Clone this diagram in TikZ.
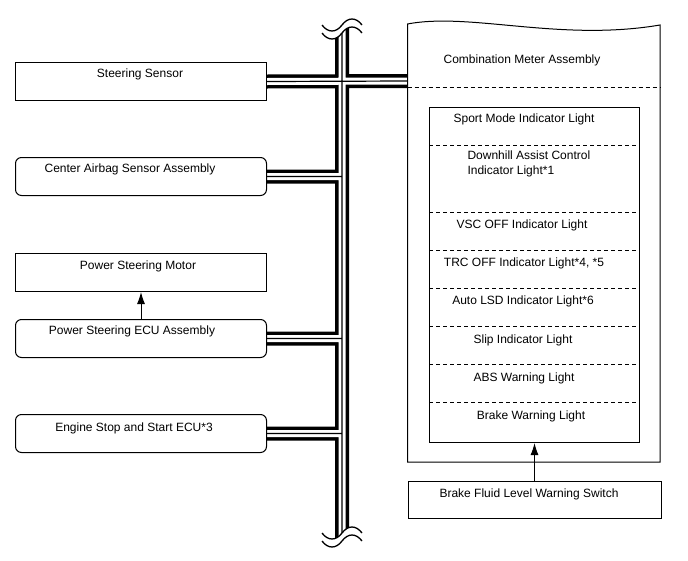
\documentclass[tikz,border=0pt]{standalone}
\usepackage{fontspec}
\setmainfont{Liberation Sans}
\usetikzlibrary{arrows.meta,backgrounds}
\begin{document}
\begin{tikzpicture}[x=1pt,y=-1pt,line width=1pt,
  box/.style={draw,line width=1pt,inner sep=0pt,anchor=north west,minimum width=251pt,minimum height=38pt},
  rbox/.style={box,rounded corners=6pt},
  lbl/.style={anchor=base,inner sep=0pt,font=\fontsize{12}{15}\selectfont},
  sep/.style={dashed,dash pattern=on 4pt off 3pt,line width=0.9pt},
  arr/.style={-{Latex[length=12pt,width=8pt]},line width=1pt},
  wave/.style={line width=1.3pt}]
\useasboundingbox (0,0) rectangle (688,560);
% left boxes
\node[box]  (ss)  at (15,62)  {};
\node[rbox] (cab) at (15,157) {};
\node[box]  (psm) at (15,253) {};
\node[rbox] (ecu) at (15,319) {};
\node[rbox] (eng) at (15,414) {};
\node[lbl] (tss)  at (140,77)  {Steering Sensor};
\node[lbl] (tcab) at (130,172) {Center Airbag Sensor Assembly};
\node[lbl] (tpsm) at (138,269) {Power Steering Motor};
\node[lbl] (tecu) at (132,334) {Power Steering ECU Assembly};
\node[lbl] (teng) at (134,431) {Engine Stop and Start ECU*3};
\draw[arr] (ecu.north) -- (psm.south);
% combination meter
\draw (407.5,24) .. controls (470,12) and (560,42) .. (660,25) -- (660,462) -- (407.5,462) -- cycle;
\coordinate (mL) at (407.5,81);
\coordinate (mR) at (660,87);
\draw[sep] (mL |- mR) -- (mR);
\node[lbl] (tcm) at (522,63) {Combination Meter Assembly};
\node[box,minimum width=210pt,minimum height=335pt] (inner) at (429,107) {};
\foreach \yy in {145,212,250,288,326,364,402}
  \draw[sep] (inner.west |- 0,\yy) -- (inner.east |- 0,\yy);
\node[lbl] (t1) at (524,122) {Sport Mode Indicator Light};
\node[lbl,anchor=base west] (t2a) at (467,159) {Downhill Assist Control};
\node[lbl,anchor=base west] (t2b) at (467,174) {Indicator Light*1};
\node[lbl] (t3) at (522,228) {VSC OFF Indicator Light};
\node[lbl] (t4) at (524,266) {TRC OFF Indicator Light*4, *5};
\node[lbl] (t5) at (523,304) {Auto LSD Indicator Light*6};
\node[lbl] (t6) at (523,343) {Slip Indicator Light};
\node[lbl] (t7) at (524,381) {ABS Warning Light};
\node[lbl] (t8) at (531,419) {Brake Warning Light};
\node[box,minimum width=253pt,minimum height=37pt] (bfs) at (407.5,481) {};
\node[lbl] (tbfs) at (529,497) {Brake Fluid Level Warning Switch};
\draw[arr] (bfs.north) -- (bfs.north |- inner.south);
% bus
\coordinate (bt) at (342,27);
\coordinate (bb) at (342,539);
\begin{pgfonlayer}{background}
\begin{scope}
\clip (0,33) -- (322,33) .. controls (328,41) and (336,41) .. (342,33) .. controls (348,25) and (356,25) .. (362,33) -- (688,33)
  -- (688,533) -- (362,533) .. controls (356,525) and (348,525) .. (342,533) .. controls (336,541) and (328,541) .. (322,533) -- (0,533) -- cycle;
\foreach \w/\c in {14/black,7/white,1.2/black}{
  \draw[line width=\w pt,\c] (bt) -- (bb)
    (ss.east) -- (mL)
    (cab.east) -- (cab.east -| bt)
    (ecu.east) -- (ecu.east -| bt)
    (eng.east) -- (eng.east -| bt);
}
\end{scope}
\end{pgfonlayer}
% break marks
\draw[wave] (322,25) .. controls (328,33) and (336,33) .. (342,25) .. controls (348,17) and (356,17) .. (362,25);
\draw[wave] (322,33) .. controls (328,41) and (336,41) .. (342,33) .. controls (348,25) and (356,25) .. (362,33);
\draw[wave] (322,533) .. controls (328,541) and (336,541) .. (342,533) .. controls (348,525) and (356,525) .. (362,533);
\draw[wave] (322,541) .. controls (328,549) and (336,549) .. (342,541) .. controls (348,533) and (356,533) .. (362,541);
\end{tikzpicture}
\end{document}
